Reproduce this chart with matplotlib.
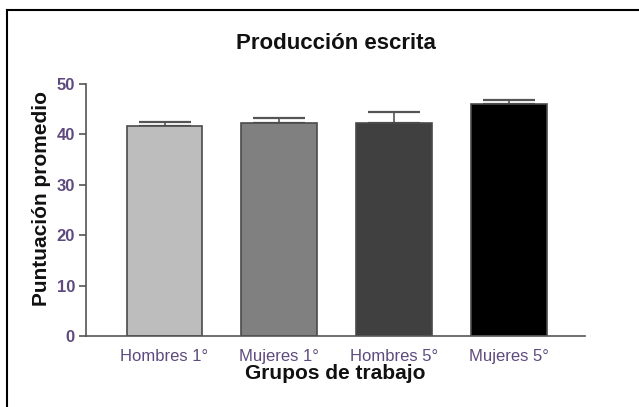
import numpy as np
import matplotlib.pyplot as plt
from matplotlib.lines import Line2D

plt.rcParams['font.family'] = ['Liberation Sans', 'DejaVu Sans']

# data
groups = ['Hombres 1°', 'Mujeres 1°', 'Hombres 5°', 'Mujeres 5°']
means = [41.7, 42.3, 42.3, 46.0]
errors = [0.8, 0.9, 2.1, 0.8]
colors = ['#bdbdbd', '#808080', '#404040', '#000000']

fig = plt.figure(figsize=(6.39, 4.07), dpi=100)
ax = fig.add_axes([0.1346, 0.1744, 0.781, 0.6192])

x = np.arange(len(groups))
ax.bar(x, means, width=0.66, color=colors, edgecolor='#4a4a4a', linewidth=1.2, zorder=2)
ax.errorbar(x, means, yerr=[np.zeros(len(errors)), errors], fmt='none',
            ecolor='#555555', elinewidth=1.2, capsize=19, capthick=1.6, zorder=1)

ax.set_xlim(-0.684, 3.662)
ax.set_ylim(0, 50)
ax.set_yticks([0, 10, 20, 30, 40, 50])
ax.set_xticks(x)
ax.set_xticklabels(groups)
ax.tick_params(axis='x', length=0, pad=9, labelsize=12, labelcolor='#5e4a7e')
ax.tick_params(axis='y', length=5, width=1.2, color='#555555', pad=3,
               labelsize=12, labelcolor='#5e4a7e')
for lbl in ax.get_yticklabels():
    lbl.set_fontweight('bold')

for s in ['top', 'right']:
    ax.spines[s].set_visible(False)
for s in ['left', 'bottom']:
    ax.spines[s].set_color('#555555')
    ax.spines[s].set_linewidth(1.2)

ax.set_xlabel('Grupos de trabajo', fontsize=15, fontweight='bold', labelpad=0, color='#111111')
ax.set_ylabel('Puntuación promedio', fontsize=15, fontweight='bold', color='#111111')
ax.yaxis.set_label_coords(-0.07, 0.545)
fig.text(0.525, 0.894, 'Producción escrita', ha='center', va='center',
         fontsize=16, fontweight='bold', color='#111111')

# outer frame
fig.add_artist(Line2D([7 / 639, 7 / 639], [0, 1 - 10 / 407], transform=fig.transFigure,
                      color='black', linewidth=1.5))
fig.add_artist(Line2D([7 / 639, 1], [1 - 10 / 407, 1 - 10 / 407], transform=fig.transFigure,
                      color='black', linewidth=1.5))

fig.savefig('out.png', dpi=100)
